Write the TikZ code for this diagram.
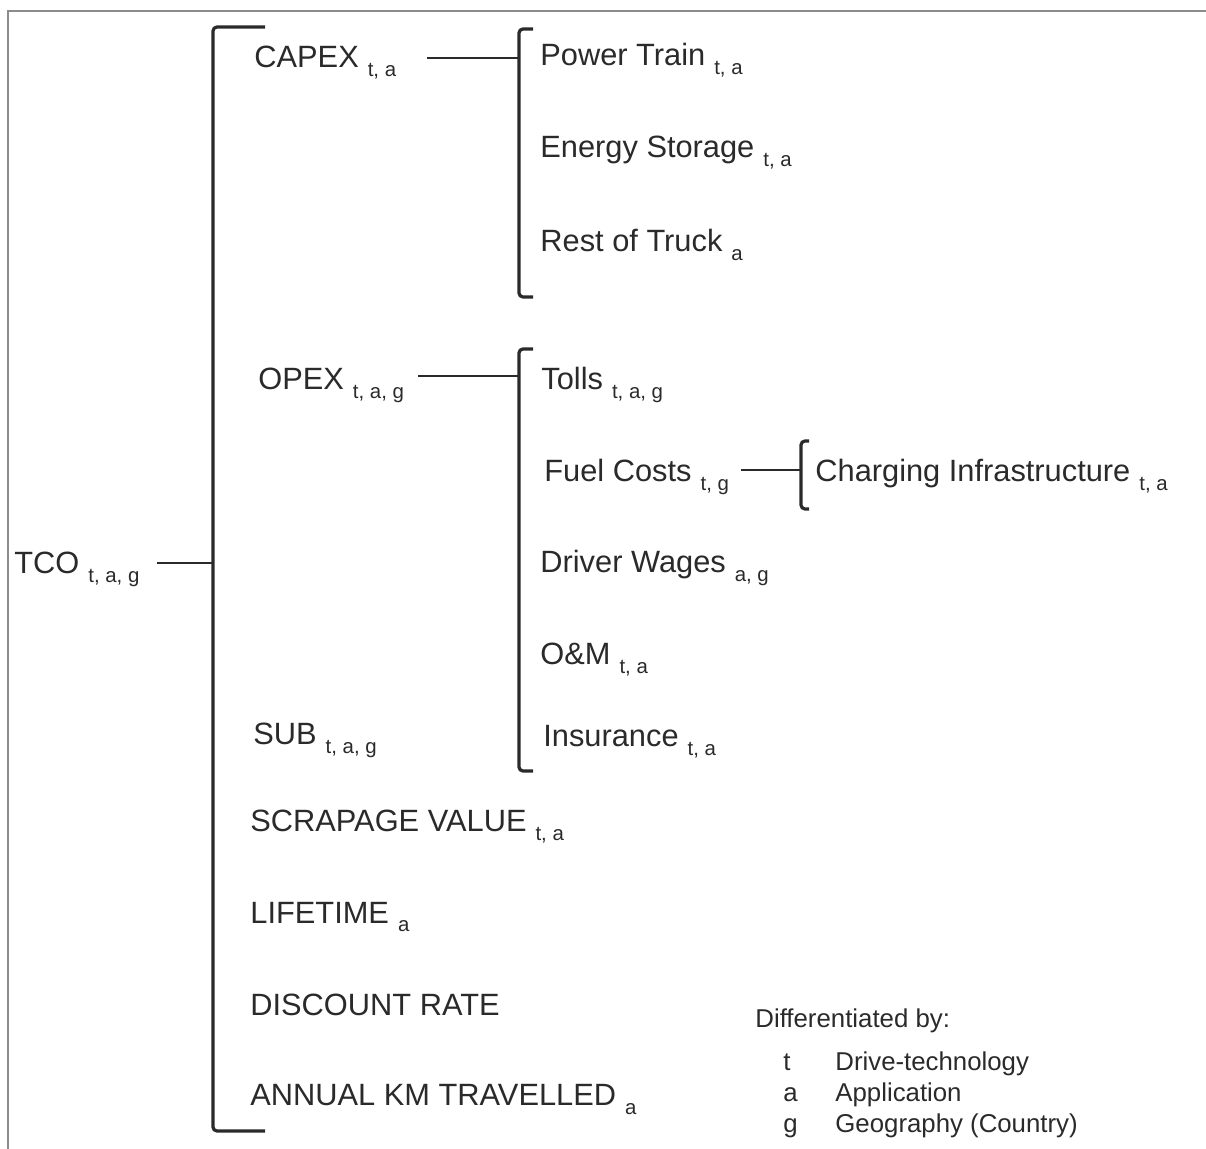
\documentclass[tikz,border=0pt]{standalone}
\usepackage{fontspec}
\setmainfont{Liberation Sans}
\usepackage{pgf, tikz}
\usetikzlibrary{positioning}

\definecolor{inkgray}{HTML}{2A2A2A}
\definecolor{framegray}{HTML}{8C8C8C}
\newcommand{\idx}[1]{\hspace{4.5pt}\raisebox{-4.5pt}{\fontsize{10.2}{12}\selectfont #1}}

\tikzset{
	item/.style={anchor=base west, inner sep=0pt, text=inkgray, font=\fontsize{15.4}{18}\selectfont},
	legend/.style={anchor=base west, inner sep=0pt, text=inkgray, font=\fontsize{12.9}{15}\selectfont},
	bracket/.style={draw=inkgray, line width=1.6pt, rounded corners=2pt},
	link/.style={draw=inkgray, line width=1.3pt},
}

\begin{document}
\begin{tikzpicture}[x=0.5pt, y=-0.5pt]
		\useasboundingbox (0,0) rectangle (1206,1149);
		\draw[framegray, line width=0.6pt] (8,1149) -- (8,11) -- (1206,11);
		
		% cost tree
		\node[item] (tco) at (14,574) {TCO\idx{t, a, g}};
		
		\foreach \nm/\xx/\yy/\txt in {capex/254/68/{CAPEX\idx{t, a}},
			opex/258/390/{OPEX\idx{t, a, g}},
			sub/253/745/{SUB\idx{t, a, g}},
			scrap/250/832/{SCRAPAGE VALUE\idx{t, a}},
			life/250/923/{LIFETIME\idx{a}},
			disc/250/1015/{DISCOUNT RATE},
			km/250/1105/{ANNUAL KM TRAVELLED\idx{a}}}
			\node[item] (\nm) at (\xx,\yy) {\txt};
		
		\foreach \nm/\xx/\yy/\txt in {train/540/66/{Power Train\idx{t, a}},
			storage/540/158/{Energy Storage\idx{t, a}},
			rest/540/252/{Rest of Truck\idx{a}},
			tolls/541/390/{Tolls\idx{t, a, g}},
			fuel/544/482/{Fuel Costs\idx{t, g}},
			wages/540/573/{Driver Wages\idx{a, g}},
			om/540/665/{O\&M\idx{t, a}},
			insur/543/747/{Insurance\idx{t, a}}}
			\node[item] (\nm) at (\xx,\yy) {\txt};
		
		\node[item] (charging) at (815,482) {Charging Infrastructure\idx{t, a}};
		
		% brackets
		\draw[bracket] (265,27) -- (213,27) -- (213,1131) -- (265,1131);
		\draw[bracket] (533,29) -- (519,29) -- (519,297) -- (533,297);
		\draw[bracket] (533,349) -- (519,349) -- (519,771) -- (533,771);
		\draw[bracket] (809,441) -- (801,441) -- (801,509) -- (809,509);
		
		\coordinate (jtco) at (213,563);
		\coordinate (jcapex) at (519,58);
		\coordinate (jopex) at (519,376);
		\coordinate (jfuel) at (801,470);
		
		\draw[link] (157,0 |- jtco) -- (jtco);
		\draw[link] (427,0 |- jcapex) -- (jcapex);
		\draw[link] (418,0 |- jopex) -- (jopex);
		\draw[link] (741,0 |- jfuel) -- (jfuel);
		
		% legend
		\node[legend] (diff) at (755,1027) {Differentiated by:};
		\foreach \nm/\yy/\ltr/\txt in {t/1070/t/Drive-technology,
			a/1101/a/Application,
			g/1132/g/Geography (Country)}{
			\node[legend] (key-\nm) at (783,\yy) {\ltr};
			\node[legend] (desc-\nm) at (835,\yy) {\txt};
		}
	\end{tikzpicture}
\end{document}
